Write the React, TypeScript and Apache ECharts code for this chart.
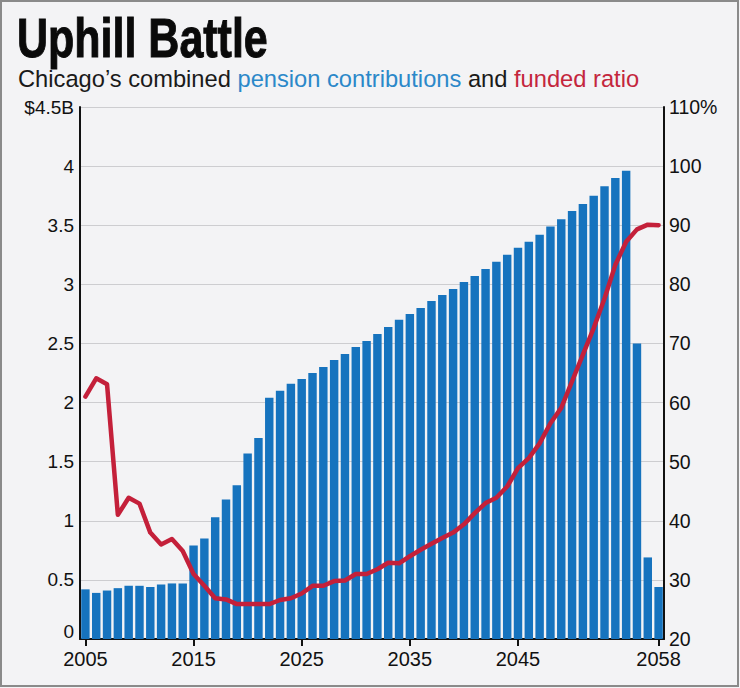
import React, { useEffect, useRef } from 'react';
import * as echarts from 'echarts';

const years = [
  '2005', '2006', '2007', '2008', '2009', '2010', '2011', '2012', '2013', '2014',
  '2015', '2016', '2017', '2018', '2019', '2020', '2021', '2022', '2023', '2024',
  '2025', '2026', '2027', '2028', '2029', '2030', '2031', '2032', '2033', '2034',
  '2035', '2036', '2037', '2038', '2039', '2040', '2041', '2042', '2043', '2044',
  '2045', '2046', '2047', '2048', '2049', '2050', '2051', '2052', '2053', '2054',
  '2055', '2056', '2057', '2058',
];

// Combined pension contributions, $ billions
const contributions = [
  0.42, 0.39, 0.41, 0.43, 0.45, 0.45, 0.44, 0.46, 0.47, 0.47,
  0.79, 0.85, 1.03, 1.18, 1.30, 1.57, 1.70, 2.04, 2.10, 2.16,
  2.20, 2.25, 2.30, 2.36, 2.41, 2.47, 2.52, 2.58, 2.64, 2.70,
  2.75, 2.80, 2.86, 2.91, 2.96, 3.02, 3.07, 3.13, 3.19, 3.25,
  3.31, 3.36, 3.42, 3.49, 3.55, 3.62, 3.68, 3.75, 3.83, 3.90,
  3.96, 2.50, 0.69, 0.44,
];

// Funded ratio, percent
const fundedRatio = [
  61.0, 64.1, 63.1, 41.0, 43.9, 42.9, 38.0, 36.0, 36.9, 34.9,
  31.0, 29.0, 26.9, 26.7, 25.9, 25.9, 25.9, 25.9, 26.6, 26.9,
  27.7, 29.0, 29.0, 29.8, 29.9, 31.0, 31.0, 31.8, 32.9, 32.8,
  34.0, 35.1, 36.1, 37.1, 38.0, 39.4, 41.3, 43.0, 43.9, 45.8,
  48.9, 50.6, 53.1, 56.5, 59.1, 63.6, 68.1, 72.6, 77.6, 83.3,
  87.2, 89.3, 90.1, 90.0,
];

const tickYears = ['2005', '2015', '2025', '2035', '2045', '2058'];

const TITLE = 'Uphill Battle';
const SUB_PARTS = ["Chicago\u2019s combined ", 'pension contributions', ' and ', 'funded ratio'];
const SUB_COLORS = ['#1a1a1a', '#2b88c9', '#1a1a1a', '#c4263d'];

const FONT = "'Liberation Sans', Arial, Helvetica, sans-serif";

function measure(text: string, font: string): number {
  const c = document.createElement('canvas').getContext('2d');
  if (!c) return text.length * 10;
  c.font = font;
  return c.measureText(text).width;
}

export default function App() {
  const ref = useRef<HTMLDivElement>(null);

  useEffect(() => {
    if (!ref.current) return;
    const chart = echarts.init(ref.current, null, { renderer: 'svg' });
    const showTick = (_i: number, v: string) => tickYears.includes(v);

    const titleSize = 56;
    const titleW = measure(TITLE, `bold ${titleSize}px 'Liberation Sans', Arial, sans-serif`);
    const titleScale = 251 / titleW;

    const subSize = 23.7;
    const subFont = `${subSize}px 'Liberation Sans', Arial, sans-serif`;
    let sx = 18;
    const subTexts = SUB_PARTS.map((part, i) => {
      const el = {
        type: 'text',
        x: sx,
        y: 79,
        style: {
          text: part,
          fontFamily: FONT,
          fontSize: subSize,
          fill: SUB_COLORS[i],
          verticalAlign: 'middle',
          align: 'left',
        },
      };
      sx += measure(part, subFont);
      return el;
    });

    chart.setOption({
      animation: false,
      backgroundColor: '#f3f3f5',
      textStyle: { fontFamily: FONT },
      graphic: [
        {
          type: 'rect',
          shape: { x: 1, y: 1, width: 737, height: 685 },
          style: { fill: 'none', stroke: '#8a8a8a', lineWidth: 2 },
          z: 100,
        },
        {
          type: 'text',
          x: 17,
          y: 38,
          scaleX: titleScale,
          style: {
            text: TITLE,
            fontFamily: FONT,
            fontWeight: 'bold',
            fontSize: titleSize,
            fill: '#0a0a0a',
            verticalAlign: 'middle',
            align: 'left',
            stroke: '#0a0a0a',
            lineWidth: 1,
          },
        },
        ...subTexts,
      ],
      grid: { left: 80, right: 76, top: 107, bottom: 49, containLabel: false },
      xAxis: {
        type: 'category',
        data: years,
        boundaryGap: true,
        axisLine: { show: true, lineStyle: { color: '#111', width: 2 } },
        axisTick: {
          show: true,
          alignWithLabel: true,
          interval: showTick,
          length: 7,
          lineStyle: { color: '#111', width: 2 },
        },
        axisLabel: {
          interval: showTick,
          color: '#111',
          fontSize: 20,
          margin: 10,
          fontFamily: FONT,
        },
        splitLine: { show: false },
      },
      yAxis: [
        {
          type: 'value',
          position: 'left',
          min: 0,
          max: 4.5,
          interval: 0.5,
          axisLine: { show: true, lineStyle: { color: '#111', width: 2 } },
          axisTick: { show: false },
          axisLabel: {
            color: '#111',
            fontSize: 19,
            margin: 6,
            fontFamily: FONT,
            formatter: (v: number) =>
              v === 4.5 ? '$4.5B' : v === 0 ? '{z|0}' : String(v),
            rich: {
              z: { fontSize: 19, fontFamily: FONT, color: '#111', padding: [0, 0, 16, 0] },
            },
          },
          splitLine: { show: true, lineStyle: { color: '#cdcdd0', width: 1 } },
        },
        {
          type: 'value',
          position: 'right',
          min: 20,
          max: 110,
          interval: 10,
          axisLine: { show: true, lineStyle: { color: '#111', width: 2 } },
          axisTick: { show: false },
          axisLabel: {
            color: '#111',
            fontSize: 19.5,
            margin: 5,
            fontFamily: FONT,
            formatter: (v: number) => (v === 110 ? '110%' : String(v)),
          },
          splitLine: { show: false },
        },
      ],
      series: [
        {
          name: 'Pension contributions',
          type: 'bar',
          data: contributions,
          yAxisIndex: 0,
          barCategoryGap: '22%',
          itemStyle: { color: '#1673be' },
          z: 2,
        },
        {
          name: 'Funded ratio',
          type: 'line',
          data: fundedRatio,
          yAxisIndex: 1,
          symbol: 'none',
          lineStyle: { color: '#c4203a', width: 4.5, join: 'round', cap: 'round' },
          z: 3,
        },
      ],
    });
    return () => chart.dispose();
  }, []);

  return (
    <div
      ref={ref}
      style={{ position: 'fixed', left: 0, top: 0, width: 740, height: 688 }}
    />
  );
}
